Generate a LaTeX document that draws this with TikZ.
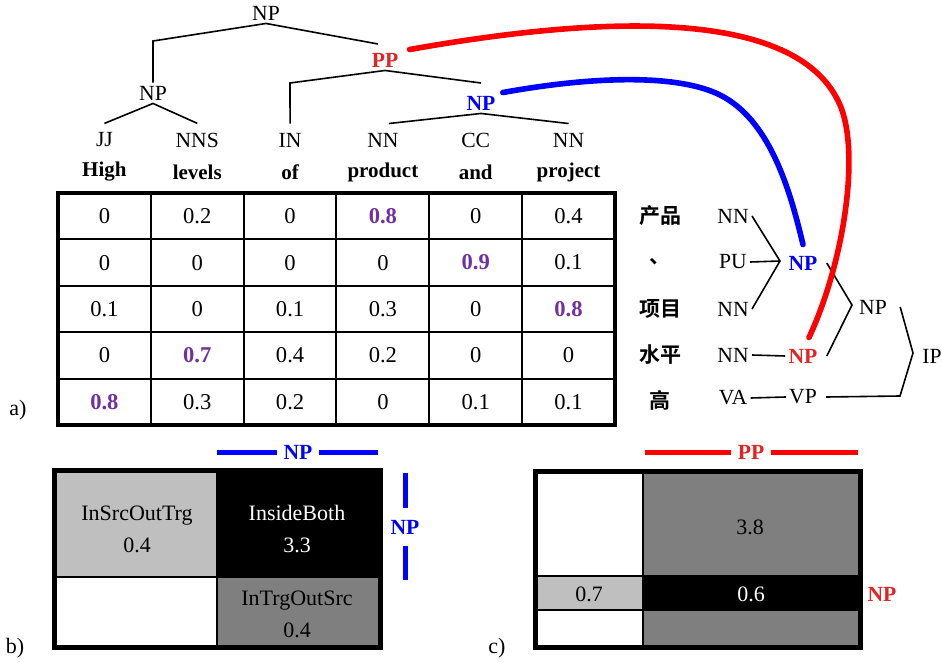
\documentclass[tikz,border=0pt]{standalone}
\usepackage{fontspec}
\setmainfont{Liberation Serif}
\newfontfamily\cjk{Noto Sans CJK SC}[BoldFont={Noto Sans CJK SC Bold}]
\definecolor{hipurple}{RGB}{112,48,160}
\definecolor{lgray}{RGB}{191,191,191}
\definecolor{dgray}{RGB}{127,127,127}
\definecolor{labred}{RGB}{230,35,35}
\newcommand{\hi}[1]{\textcolor{hipurple}{\bfseries #1}}

\begin{document}
\begin{tikzpicture}[x=0.5pt,y=-0.5pt,
  every node/.style={font=\fontsize{10.8}{12}\selectfont, inner sep=1.5pt},
  word/.style={font=\fontsize{10.5}{12}\selectfont\bfseries},
  num/.style={font=\fontsize{11.3}{12}\selectfont},
  cn/.style={font=\fontsize{10.5}{12}\cjk\bfseries},
  redlab/.style={font=\fontsize{10.8}{12}\selectfont\bfseries, text=labred},
  bluelab/.style={font=\fontsize{10.8}{12}\selectfont\bfseries, text=blue},
  boxtxt/.style={font=\fontsize{11}{16}\selectfont, align=center},
  tree/.style={line width=0.8pt},
  link/.style={line width=2.8pt, line cap=round}]

\useasboundingbox (0,0) rectangle (942,663);

\def\colw{92.83}
\def\rowh{46.4}
\def\tx{58}
\def\ty{193}

% english tree
\foreach \w/\t [count=\c] in {High/JJ,levels/NNS,of/IN,product/NN,and/CC,project/NN}{
  \node (pos\c) at ({\tx+(\c-0.5)*\colw},140) {\t};
  \node[word] (word\c) at ({\tx+(\c-0.5)*\colw},172) {\w};
}
\node (root) at (266,13) {NP};
\node (npl) at (153,93) {NP};
\node[redlab] (pp) at (385,60) {PP};
\node[bluelab] (npt) at (481,103) {NP};

\draw[tree] (npl.north) -- (153,41) -- (root.south) -- (378,44);
\draw[tree] ([yshift=3pt]pos1.north) -- (npl.south) -- ([yshift=3pt]pos2.north);
\draw[tree] ([yshift=3pt]pos3.north) -- (290,83) -- (pp.south) -- (481,83);
\draw[tree] ([yshift=3pt,xshift=3pt]pos4.north) -- (npt.south) -- ([yshift=3pt]pos6.north);

% alignment table
\foreach \vals [count=\r] in {{0,0.2,0,\hi{0.8},0,0.4},{0,0,0,0,\hi{0.9},0.1},{0.1,0,0.1,0.3,0,\hi{0.8}},{0,\hi{0.7},0.4,0.2,0,0},{\hi{0.8},0.3,0.2,0,0.1,0.1}}{
  \foreach \v [count=\c] in \vals
    \node[num] (cell\r\c) at ({\tx+(\c-0.5)*\colw},{\ty+(\r-0.5)*\rowh}) {\v};
}
\foreach \c in {1,...,5}
  \draw[line width=1pt] ({\tx+\c*\colw},\ty) -- ({\tx+\c*\colw},{\ty+5*\rowh});
\foreach \r in {1,...,4}
  \draw[line width=1pt] (\tx,{\ty+\r*\rowh}) -- ({\tx+6*\colw},{\ty+\r*\rowh});
\draw[line width=2.3pt] (\tx,\ty) rectangle ({\tx+6*\colw},{\ty+5*\rowh});
\node[font=\fontsize{11}{12}\selectfont] (lba) at (18,410) {a)};

% chinese tree
\node[cn] (zh1) at (660,216) {产品};
\node[cn] (zh2) at (660,262) {、};
\node[cn] (zh3) at (660,309) {项目};
\node[cn] (zh4) at (660,355) {水平};
\node[cn] (zh5) at (660,400) {高};

\node (nn1) at (733,216) {NN};
\node (pu) at (733,262) {PU};
\node (nn3) at (733,309) {NN};
\node (nn4) at (733,355) {NN};
\node (va) at (733,398) {VA};
\node[bluelab] (npb) at (803,263) {NP};
\node[redlab] (npr) at (803,356) {NP};
\node (vp) at (803,397) {VP};
\node (npm) at (873,307) {NP};
\node (ip) at (932,356) {IP};

\coordinate (j1) at (780,261);
\coordinate (j2) at (852,305);
\coordinate (j3) at (913,353);
\coordinate (j4) at (900,396);
\draw[tree] (nn1.east) -- (j1) -- (nn3.east);
\draw[tree] (pu.east) -- (j1);
\draw[tree] (nn4.east) -- (npr.west);
\draw[tree] (va.east) -- (vp.west);
\draw[tree] ([xshift=3pt]npb.east) -- (j2) -- ([xshift=3pt]npr.east);
\draw[tree] ([xshift=5pt]npm.east) -- (j3) -- (j4) -- ([xshift=3pt]vp.east);

% links between trees
\draw[link, red] ([xshift=4pt]pp.north east) .. controls (620,12) and (800,12) .. (840,105)
  .. controls (860,151) and (845,260) .. ([xshift=3pt,yshift=4pt]npr.north);
\draw[link, blue] ([xshift=2pt]npt.north east) .. controls (600,75) and (680,75) .. (720,95)
  .. controls (770,120) and (790,190) .. ([yshift=4pt]npb.north);

% b) NP / NP
\fill[lgray] (54,470) rectangle (217,577);
\fill[black] (217,470) rectangle (380,577);
\fill[dgray] (217,577) rectangle (380,647);
\draw[line width=1pt] (217,470) -- (217,647);
\draw[line width=1pt] (54,577) -- (380,577);
\draw[line width=2.5pt] (54,470) rectangle (380,647);
\node[boxtxt] (srcout) at (137,529) {InSrcOutTrg\\0.4};
\node[boxtxt, text=white] (both) at (297,529) {InsideBoth\\3.3};
\node[boxtxt] (trgout) at (297,614) {InTrgOutSrc\\0.4};

\node[bluelab, inner sep=3pt] (bsrc) at (298,452) {NP};
\draw[blue, line width=2.5pt] (217,452) -- (bsrc.west);
\draw[blue, line width=2.5pt] (bsrc.east) -- (378,452);
\node[bluelab, inner sep=3pt] (btrg) at (405,527) {NP};
\draw[blue, line width=2.5pt] (405,473) -- ([yshift=3pt]btrg.north);
\draw[blue, line width=2.5pt] ([yshift=-3pt]btrg.south) -- (405,580);
\node[font=\fontsize{11}{12}\selectfont] (lbb) at (15,648) {b)};

% c) PP / NP
\fill[dgray] (643,471) rectangle (860,576);
\fill[lgray] (535,576) rectangle (643,610);
\fill[black] (643,576) rectangle (860,610);
\fill[dgray] (643,610) rectangle (860,647);
\draw[line width=1pt] (643,471) -- (643,647);
\draw[line width=1pt] (535,576) -- (860,576);
\draw[line width=1pt] (535,610) -- (860,610);
\draw[line width=2.5pt] (535,471) rectangle (860,647);
\node[boxtxt] (big) at (750,527) {3.8};
\node[boxtxt] (src) at (589,594) {0.7};
\node[boxtxt, text=white] (both2) at (751,594) {0.6};

\node[redlab, inner sep=3pt] (csrc) at (751,452) {PP};
\draw[red, line width=2.5pt] (645,452) -- (csrc.west);
\draw[red, line width=2.5pt] (csrc.east) -- (858,452);
\node[redlab] (ctrg) at (882,594) {NP};
\node[font=\fontsize{11}{12}\selectfont] (lbc) at (497,648) {c)};

\end{tikzpicture}
\end{document}
